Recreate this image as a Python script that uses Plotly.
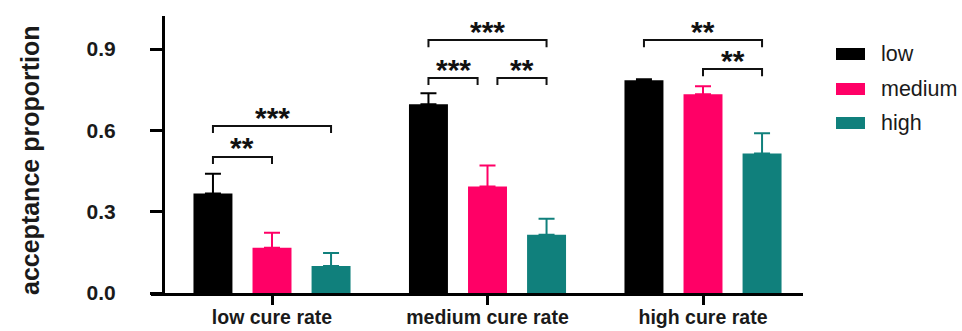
import plotly.graph_objects as go

# ---------------- data ----------------
categories = ["low cure rate", "medium cure rate", "high cure rate"]
series_names = ["low", "medium", "high"]
low_vals = [0.367, 0.696, 0.785]
medium_vals = [0.167, 0.393, 0.733]
high_vals = [0.100, 0.215, 0.515]
low_err = [0.073, 0.041, 0.004]
medium_err = [0.055, 0.077, 0.030]
high_err = [0.048, 0.059, 0.074]
y_tick_vals = [0.0, 0.3, 0.6, 0.9]
y_tick_text = ["0.0", "0.3", "0.6", "0.9"]

# significance comparisons: (group index, series i, series j, label)
comparisons = [
    (0, 0, 1, "**"),
    (0, 0, 2, "***"),
    (1, 0, 2, "***"),
    (1, 0, 1, "***"),
    (1, 1, 2, "**"),
    (2, 0, 2, "**"),
    (2, 1, 2, "**"),
]
# ---------------- styling / layout ----------------
bracket_levels = [0.502, 0.616, 0.933, 0.793, 0.793, 0.933, 0.826]
bracket_insets = [(0, 0), (0, 0), (0, 0), (0, 0.046), (0.046, 0), (0, 0), (0, 0)]

colors = ["#000000", "#FF0066", "#10807C"]
err_colors = ["#000000", "#FF0066", "#10807C"]
W, H = 962, 331
ML, MR, MT, MB = 151, 159, 16, 38
PW, PH = W - ML - MR, H - MT - MB
XR = [-0.5615, 2.464]
YR = [0, 1.022]
BARGAP = 0.178
BARGROUPGAP = 0.34
FONT = "Liberation Sans, Arial, sans-serif"
TXT = "#1a1a1a"

vals = [low_vals, medium_vals, high_vals]
errs = [low_err, medium_err, high_err]

fig = go.Figure()
for k in range(3):
    fig.add_trace(go.Bar(
        x=categories, y=vals[k], name=series_names[k],
        marker=dict(color=colors[k], line=dict(width=0)),
        error_y=dict(type="data", symmetric=False, array=errs[k],
                     arrayminus=[0] * len(errs[k]),
                     color=err_colors[k], thickness=2, width=8),
        showlegend=False,
    ))

slot = (1 - BARGAP) / 3
def bar_center(g, s):
    return g + (s - 1) * slot

shapes = []
annotations = []
leg = 0.026
for (g, i, j, lab), lvl, (ins0, ins1) in zip(comparisons, bracket_levels, bracket_insets):
    x0 = bar_center(g, i) + ins0
    x1 = bar_center(g, j) - ins1
    shapes.append(dict(
        type="path", xref="x", yref="y",
        path=f"M {x0},{lvl - leg} L {x0},{lvl} L {x1},{lvl} L {x1},{lvl - leg}",
        line=dict(color="#111111", width=2),
    ))
    annotations.append(dict(
        x=(x0 + x1) / 2, y=lvl, xref="x", yref="y", text=lab, showarrow=False,
        xanchor="center", yanchor="middle", yshift=9,
        font=dict(family=FONT, size=30, color="#111111", weight="bold"),
    ))

def px_x(px):
    return (px - ML) / PW
def px_y(py):
    return (H - MB - py) / PH

# custom legend (wide rectangles as in reference)
leg_centers = [54, 89, 123]
for k in range(3):
    cy = leg_centers[k]
    shapes.append(dict(type="rect", xref="paper", yref="paper",
                       x0=px_x(836), x1=px_x(865), y0=px_y(cy + 6), y1=px_y(cy - 6),
                       fillcolor=colors[k], line=dict(width=0)))
    annotations.append(dict(x=px_x(879), y=px_y(cy), xref="paper", yref="paper",
                            text=series_names[k], showarrow=False,
                            xanchor="left", yanchor="middle",
                            font=dict(family=FONT, size=21.5, color=TXT)))

# y-axis title
annotations.append(dict(x=px_x(30), y=px_y(160), xref="paper", yref="paper",
                        text="acceptance proportion", showarrow=False, textangle=-90,
                        xanchor="center", yanchor="middle",
                        font=dict(family=FONT, size=25, color=TXT, weight="bold")))

fig.update_layout(
    width=W, height=H,
    margin=dict(l=ML, r=MR, t=MT, b=MB, pad=0, autoexpand=False),
    paper_bgcolor="white", plot_bgcolor="white",
    barmode="group", bargap=BARGAP, bargroupgap=BARGROUPGAP,
    showlegend=False,
    shapes=shapes, annotations=annotations,
    xaxis=dict(
        type="category", categoryarray=categories, range=XR,
        showline=True, linecolor="black", linewidth=3,
        ticks="outside", ticklen=9, tickwidth=3, tickcolor="black",
        showgrid=False, zeroline=False, automargin=False,
        ticklabelstandoff=-4,
        tickfont=dict(family=FONT, size=19.5, color=TXT, weight="bold"),
        fixedrange=True,
    ),
    yaxis=dict(
        range=YR, anchor="free", position=12 / PW,
        showline=True, linecolor="black", linewidth=3,
        ticks="outside", ticklen=12, tickwidth=3, tickcolor="black",
        tickvals=y_tick_vals, ticktext=y_tick_text,
        showgrid=False, zeroline=False, automargin=False,
        ticklabelstandoff=30,
        tickfont=dict(family=FONT, size=21, color=TXT, weight="bold"),
        fixedrange=True,
    ),
)

fig.write_html("out.html")
